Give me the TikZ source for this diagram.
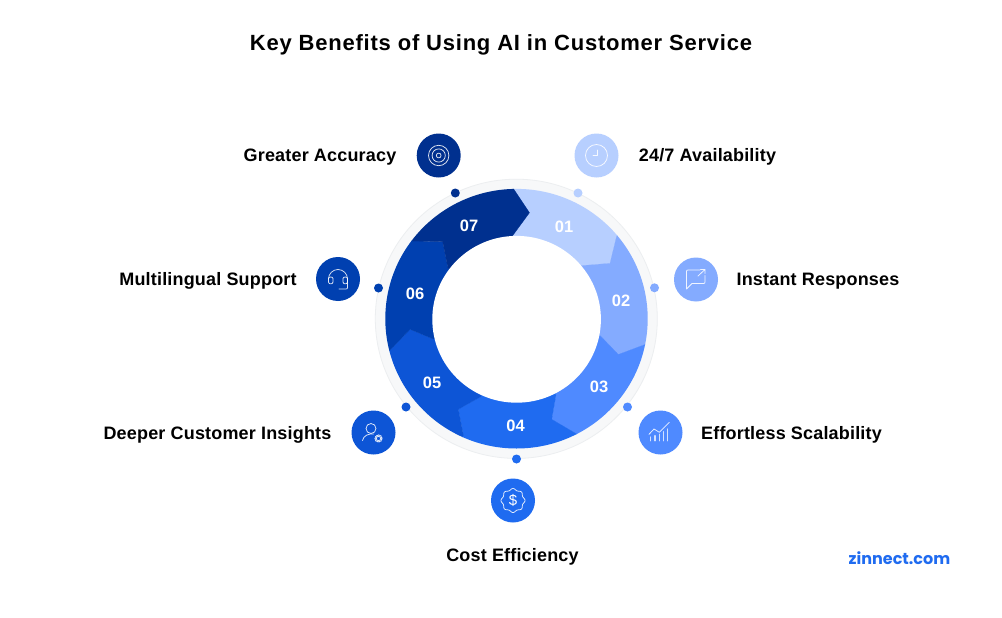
\documentclass[tikz,border=0pt]{standalone}
\usepackage{fontspec}
\setmainfont{Liberation Sans}
\newfontfamily\logofont{Poppins}
\usetikzlibrary{calc}
\definecolor{cA}{HTML}{B7CFFF}
\definecolor{cB}{HTML}{84ABFF}
\definecolor{cC}{HTML}{4F8AFF}
\definecolor{cD}{HTML}{1F6BF0}
\definecolor{cE}{HTML}{0D55D6}
\definecolor{cF}{HTML}{0040B0}
\definecolor{cG}{HTML}{00308F}
\definecolor{ringfill}{HTML}{F7F8F9}
\definecolor{ringedge}{HTML}{ECEEF0}
\tikzset{
  x=1pt,y=-1pt,
  lab/.style={font=\bfseries\fontsize{18}{20}\selectfont\addfontfeatures{LetterSpace=1},text=black,inner sep=0pt,anchor=center},
  num/.style={font=\bfseries\fontsize{16.5}{18}\selectfont,text=white,inner sep=0pt,anchor=center},
  ico/.style={draw=white,line width=0.75pt,line cap=round,line join=round,draw opacity=0.88,fill=none},
  badge/.style={circle,minimum size=44pt,inner sep=0pt,draw=none},
  dot/.style={circle,minimum size=9pt,inner sep=0pt,draw=none}
}
\newcommand{\seg}[7]{% colour, prev inner, prev tip, prev outer, this outer, this tip, this inner
  \fill[#1,draw=#1,line width=0.2pt] (c) -- (#2) -- (#3) -- (#4) -- ($(c)!1.4!(#4)$) -- ($(c)!1.4!(#5)$) -- (#5) -- (#6) -- (#7) -- cycle;}
\begin{document}
\begin{tikzpicture}
\useasboundingbox (0,0) rectangle (1002,618);
\fill[white] (0,0) rectangle (1002,618);
\coordinate (c) at (516.3,319);
% boundaries (outer, tip, inner)
\coordinate (ao) at (616.7,236);\coordinate (at) at (610,263.3);\coordinate (ai) at (581,265.7);
\coordinate (bo) at (645,344.5);\coordinate (bt) at (618.3,354.5);\coordinate (bi) at (600.3,335.8);
\coordinate (co) at (576.7,434);\coordinate (ct) at (551.7,419.3);\coordinate (ci) at (556,395);
\coordinate (do) at (463.3,435);\coordinate (dt) at (458.3,409.3);\coordinate (di) at (480.7,396.7);
\coordinate (eo) at (390,350);\coordinate (et) at (410,329.3);\coordinate (ei) at (433.3,339);
\coordinate (fo) at (412.7,241);\coordinate (ft) at (442.7,241.7);\coordinate (fi) at (448,268);
\coordinate (go) at (513,188);\coordinate (gt) at (529.5,212.7);\coordinate (gi) at (512.2,236.3);
% outer pale ring
\fill[ringfill,draw=ringedge,line width=0.8pt] (516.3,318.8) ellipse[x radius=141,y radius=139.6];
\begin{scope}
  \clip (516.5,318.7) ellipse[x radius=131.2,y radius=129.8];
  \seg{cA}{gi}{gt}{go}{ao}{at}{ai}
  \seg{cB}{ai}{at}{ao}{bo}{bt}{bi}
  \seg{cC}{bi}{bt}{bo}{co}{ct}{ci}
  \seg{cD}{ci}{ct}{co}{do}{dt}{di}
  \seg{cE}{di}{dt}{do}{eo}{et}{ei}
  \seg{cF}{ei}{et}{eo}{fo}{ft}{fi}
  \seg{cG}{fi}{ft}{fo}{go}{gt}{gi}
\end{scope}
\fill[white] (516.6,319.3) ellipse[x radius=84.3,y radius=83.4];
% numbers
\node[num] (n1) at (564,227) {01};
\node[num] (n2) at (621,301) {02};
\node[num] (n3) at (599,387) {03};
\node[num] (n4) at (515.5,425.5) {04};
\node[num] (n5) at (432,383) {05};
\node[num] (n6) at (415,294) {06};
\node[num] (n7) at (469,226) {07};
% dots
\node[dot,fill=cA] (d1) at (578,193) {};
\node[dot,fill=cB] (d2) at (654.5,287.8) {};
\node[dot,fill=cC] (d3) at (627.5,407) {};
\node[dot,fill=cD] (d4) at (516.5,459) {};
\node[dot,fill=cE] (d5) at (406,407) {};
\node[dot,fill=cF] (d6) at (378.5,288) {};
\node[dot,fill=cG] (d7) at (455.3,193) {};
% badges
\node[badge,fill=cA] (b1) at (596.5,155.5) {};
\node[badge,fill=cB] (b2) at (696,279.5) {};
\node[badge,fill=cC] (b3) at (660.5,432.5) {};
\node[badge,fill=cD] (b4) at (513,500.5) {};
\node[badge,fill=cE] (b5) at (373.5,432.5) {};
\node[badge,fill=cF] (b6) at (338,279) {};
\node[badge,fill=cG] (b7) at (438.7,155.5) {};
% clock
\begin{scope}[shift={(b1.center)}]
  \draw[ico] (0,0) circle[radius=11];
  \draw[ico] (0.5,-5.5) -- (0.5,0) -- (-3.5,0);
\end{scope}
% chat
\begin{scope}[shift={(b2.center)}]
  \draw[ico] (4,-9.5) -- (-7.5,-9.5) .. controls (-9.5,-9.5) .. (-9.5,-7.5) -- (-9.5,9.5) -- (-4,4) -- (7,4) .. controls (9,4) .. (9,2) -- (9,-4);
  \draw[ico] (2,-3.5) -- (9,-10) (4.5,-10) -- (9,-10) -- (9,-6);
\end{scope}
% chart
\begin{scope}[shift={(b3.center)}]
  \draw[ico] (-11.5,1.8) -- (-6.5,-3.5) -- (-1.2,-0.2) -- (8.8,-10.2);
  \draw[ico,line width=1.5pt,draw opacity=.75] (-9.8,8.2) -- (-9.8,4.5) (-5.5,8.2) -- (-5.5,3.2) (-1.2,8.2) -- (-1.2,1.8) (2.8,8.2) -- (2.8,-0.8) (6.8,8.2) -- (6.8,-3.5);
\end{scope}
% dollar
\begin{scope}[shift={(b4.center)}]
  \draw[ico] plot[domain=0:360,samples=97,smooth] ({(11.2+0.8*cos(8*\x))*cos(\x)},{(11.2+0.8*cos(8*\x))*sin(\x)}) -- cycle;
  \node[inner sep=0pt,text=white] (dollar) at (0,0) {\fontsize{15}{15}\selectfont\$};
\end{scope}
% user
\begin{scope}[shift={(b5.center)}]
  \draw[ico] (-2.5,-4) circle[radius=5];
  \draw[ico] (-11,8) .. controls (-10,3) and (-5,1) .. (0,1.5);
  \draw[ico] (5,6) circle[radius=2.2];
  \draw[ico,dash pattern=on 1pt off 1pt,line width=1.1pt] (5,6) circle[radius=3.5];
\end{scope}
% headset
\begin{scope}[shift={(b6.center)}]
  \draw[ico] (-9.5,0) arc[start angle=180,end angle=360,radius=9.5];
  \draw[ico] (-9.5,-0.5) .. controls (-9.5,-2.5) and (-5,-2.5) .. (-5,-0.5) -- (-5,3) .. controls (-5,5.5) and (-9.5,5.5) .. (-9.5,3) -- cycle;
  \draw[ico] (5,-0.5) .. controls (5,-2.5) and (9.5,-2.5) .. (9.5,-0.5) -- (9.5,3) .. controls (9.5,5.5) and (5,5.5) .. (5,3) -- cycle;
  \draw[ico] (9.5,0) -- (9.5,8) .. controls (9.5,10) .. (7.5,10) -- (1,10);
\end{scope}
% target
\begin{scope}[shift={(b7.center)}]
  \draw[ico] (0,0) circle[radius=10.2];
  \draw[ico] (0,0) circle[radius=6.6];
  \draw[ico] (0,0) circle[radius=2.4];
\end{scope}
% labels
\node[inner sep=0pt,font=\bfseries\fontsize{22}{24}\selectfont\addfontfeatures{LetterSpace=3.5}] (title) at (501,44.5) {Key Benefits of Using AI in Customer Service};
\node[lab] (l1) at (707.5,156.5) {24/7 Availability};
\node[lab] (l2) at (818,281) {Instant Responses};
\node[lab] (l3) at (791.5,435) {Effortless Scalability};
\node[lab] (l4) at (512.5,557) {Cost Efficiency};
\node[lab] (l5) at (217.5,435) {Deeper Customer Insights};
\node[lab] (l6) at (208,281) {Multilingual Support};
\node[lab] (l7) at (320,157.5) {Greater Accuracy};
\node[inner sep=0pt,text=cD,font=\logofont\bfseries\fontsize{16}{18}\selectfont] (logo) at (899.5,558) {zinnect.com};
\end{tikzpicture}
\end{document}
